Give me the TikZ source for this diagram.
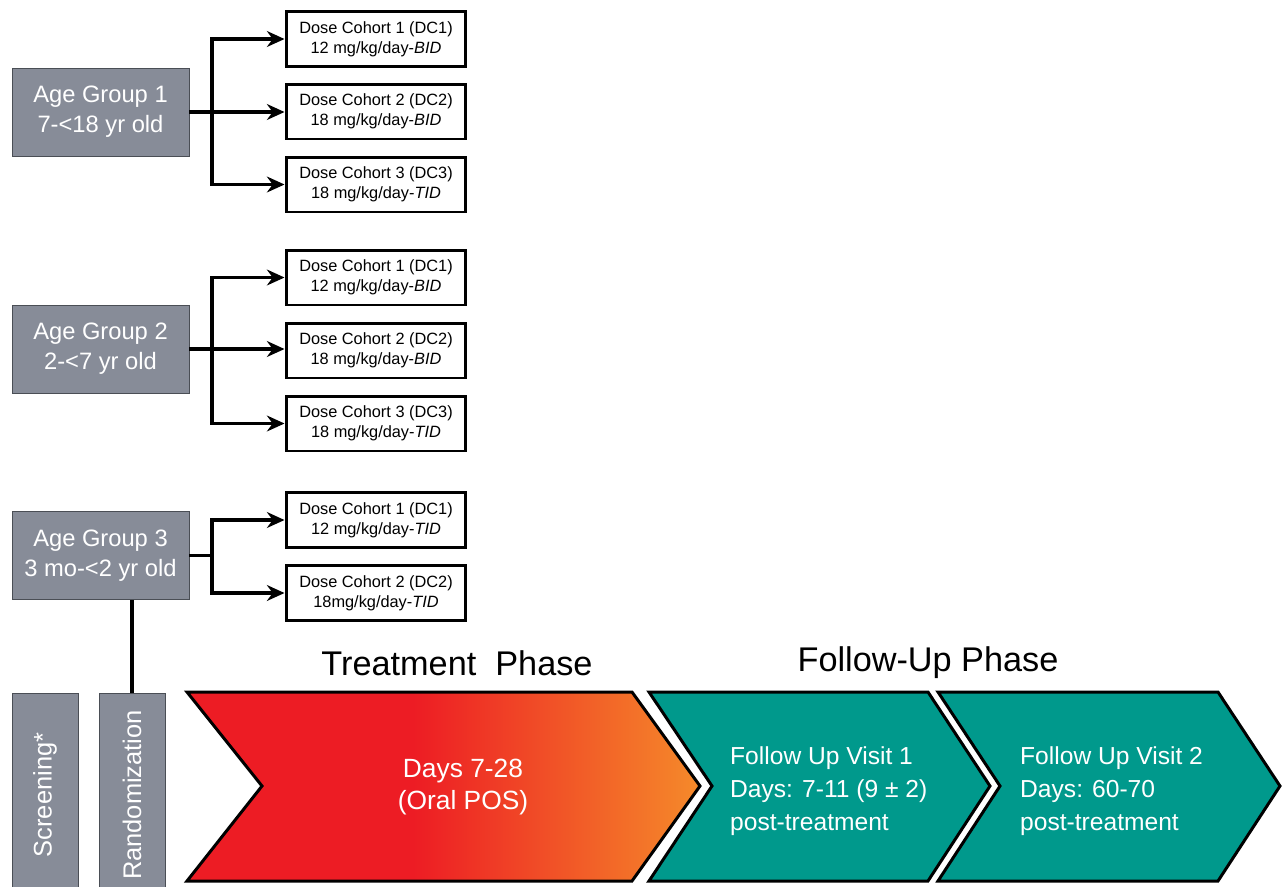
\documentclass[tikz,border=0pt]{standalone}
\usepackage{fontspec}
\setmainfont{Liberation Sans}
\usetikzlibrary{arrows.meta,positioning}
\definecolor{agegray}{HTML}{878C98}
\definecolor{agerim}{HTML}{4A4E55}
\definecolor{futeal}{HTML}{00998C}
\definecolor{txred}{HTML}{ED1C24}
\definecolor{txorange}{HTML}{F58A2A}
\pgfdeclarehorizontalshading{txshade}{100bp}{color(0bp)=(txred); color(47bp)=(txred); color(75bp)=(txorange); color(100bp)=(txorange)}

\begin{document}
\begin{tikzpicture}[x=0.02cm,y=-0.02cm,
    agebox/.style={draw=agerim,fill=agegray,text=white,align=center,minimum width=3.54cm,minimum height=1.76cm,
      font=\fontsize{13.5}{17}\selectfont},
    dosebox/.style={draw,line width=1.7pt,fill=white,align=center,minimum width=3.6cm,minimum height=1.1cm,
      font=\fontsize{9.3}{11.3}\selectfont},
    sidebox/.style={draw=agerim,fill=agegray,text=white,rotate=90,minimum width=4.06cm,minimum height=1.32cm,
      font=\fontsize{14.5}{17}\selectfont},
    link/.style={line width=2.2pt},
    arr/.style={link,-{Stealth[length=10pt,width=9pt]}},
    chev/.style={draw,line width=1.7pt,line join=miter},
    phasetext/.style={text=white,align=left,font=\fontsize{14}{18.7}\selectfont},
    title/.style={font=\fontsize{19.5}{22}\selectfont}]
  \useasboundingbox (0,0) rectangle (1285,886);

  % age groups
  \node[agebox] (ag1) at (100.5,112) {Age Group 1\\7-<18 yr old};
  \node[agebox] (ag2) at (100.5,349) {Age Group 2\\2-<7 yr old};
  \node[agebox] (ag3) at (100.5,555.5) {Age Group 3\\3 mo-<2 yr old};

  % dose cohorts
  \foreach \nm/\y/\num/\dose/\reg in {d11/39/1/12/BID, d12/111.5/2/18/BID, d13/184.5/3/18/TID,
      d21/277.5/1/12/BID, d22/350.5/2/18/BID, d23/423.5/3/18/TID, d31/520/1/12/TID}
    \node[dosebox] (\nm) at (376,\y) {Dose Cohort \num\ (DC\num)\\\dose\ mg/kg/day-\textit{\reg}};
  \node[dosebox] (d32) at (376,593) {Dose Cohort 2 (DC2)\\18mg/kg/day-\textit{TID}};

  % branches
  \foreach \g in {1,2}{
    \draw[arr] (ag\g.east) -- ++(23,0) |- (d\g1.west);
    \draw[arr] (ag\g.east) -- (ag\g.east -| d\g2.west);
    \draw[arr] (ag\g.east) -- ++(23,0) |- (d\g3.west);
  }
  \draw[arr] (ag3.east) -- ++(23,0) |- (d31.west);
  \draw[arr] (ag3.east) -- ++(23,0) |- (d32.west);

  % screening / randomization
  \node[sidebox] (scr) at (45,795) {Screening*};
  \node[sidebox] (rand) at (132,795) {Randomization};
  \draw[link] (rand.east) -- (rand.east |- ag3.south);

  % phases
  \path[chev,shading=txshade] (187,692) -- (632,692) -- (700,786) -- (632,881) -- (187,881) -- (262,786) -- cycle;
  \path[chev,fill=futeal] (649,692) -- (928,692) -- (990,786) -- (928,881) -- (649,881) -- (712,786) -- cycle;
  \path[chev,fill=futeal] (938,692) -- (1218,692) -- (1280,786) -- (1218,881) -- (938,881) -- (1000,786) -- cycle;

  \node[phasetext,align=center,font=\fontsize{15}{18.7}\selectfont] (tx) at (463,787) {Days 7-28\\(Oral POS)};
  \node[phasetext,anchor=west] (fu1) at (724,791) {Follow Up Visit 1\\Days: 7-11 (9 ± 2)\\post-treatment};
  \node[phasetext,anchor=west] (fu2) at (1014,791) {Follow Up Visit 2\\Days: 60-70\\post-treatment};

  \node[title] (txt) at (457,663) {Treatment\ \ Phase};
  \node[title] (fut) at (928,663) {Follow-Up Phase};
\end{tikzpicture}
\end{document}
